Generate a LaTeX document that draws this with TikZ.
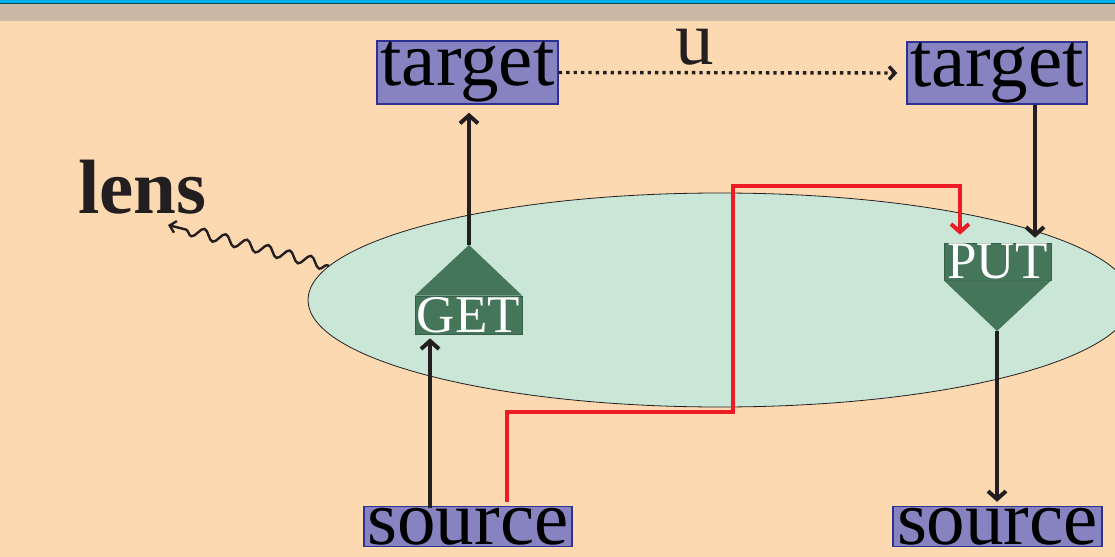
\documentclass[tikz,border=0pt]{standalone}
\usepackage{fontspec}
\setmainfont{Liberation Serif}
\usetikzlibrary{positioning,arrows.meta,shapes.geometric,decorations.pathmorphing}
\definecolor{peachbg}{HTML}{FDD9B1}
\definecolor{tanband}{HTML}{C9B8A6}
\definecolor{lensfill}{HTML}{C9E6D6}
\definecolor{boxfill}{HTML}{8783C0}
\definecolor{boxline}{HTML}{2E3192}
\definecolor{opgreen}{HTML}{45765A}
\definecolor{redpath}{HTML}{ED1C24}
\definecolor{inkblack}{HTML}{231F20}
\newcommand{\bigtext}{\fontsize{38.5}{40}\selectfont}
\tikzset{
  valbox/.style={draw=boxline,fill=boxfill,line width=0.7pt,inner sep=0pt,font=\bigtext},
  opnode/.style={fill=opgreen,draw=opgreen!80!black,line width=0.3pt,text=white,inner sep=0pt,
    font=\fontsize{26.5}{28}\selectfont},
  flow/.style={line width=2pt,draw=inkblack,-{Straight Barb[length=4pt,width=9pt]}},
}

\begin{document}
\begin{tikzpicture}[x=0.5pt,y=-0.5pt]
  \useasboundingbox (0,0) rectangle (1115,557);
  \fill[peachbg] (0,0) rectangle (1115,557);
  \fill[tanband] (0,4) rectangle (1115,21);
  \fill[cyan] (0,0) rectangle (1115,3.2);
  \fill[teal!60!black] (0,3.2) rectangle (1115,4);

  \node[ellipse,draw=inkblack,line width=0.4pt,fill=lensfill,inner sep=0pt,
    minimum width=412pt,minimum height=107pt] (lensell) at (720,300) {};
  \node[anchor=base west,inner sep=0pt,font=\bigtext\bfseries,text=inkblack] (lenslbl) at (78,213) {lens};
  \coordinate (lenstip) at (168,225);
  \draw[inkblack,line width=1.2pt,decorate,
    decoration={snake,amplitude=2.6pt,segment length=11pt,pre length=1pt,post length=4pt},
    -{Straight Barb[length=3pt,width=6pt]}] (lensell.175) -- (lenstip);

  \node[valbox,minimum width=90.5pt,minimum height=31.5pt] (tgtL) at (467.5,72.5) {target};
  \node[valbox,minimum width=90pt,minimum height=31pt] (tgtR) at (997,73) {target};
  \node[valbox,minimum width=104pt,minimum height=20pt] (srcL) at (468,526.5) {source};
  \node[valbox,minimum width=104.5pt,minimum height=20pt] (srcR) at (997.5,526.5) {source};

  \node[opnode,minimum width=53.5pt,minimum height=19pt] (get) at (468.5,315) {GET};
  \coordinate (getTop) at (469,245);
  \fill[opgreen] (get.north west) -- (getTop) -- (get.north east) -- cycle;
  \node[opnode,minimum width=53.5pt,minimum height=18.5pt] (put) at (997.5,261.5) {PUT};
  \coordinate (putTip) at (997,331);
  \fill[opgreen] (put.south west) -- (putTip) -- (put.south east) -- cycle;

  \draw[inkblack,line width=1.7pt,dash pattern=on 1.7pt off 2pt,shorten >=4.5pt,
    -{Straight Barb[length=3pt,width=6.5pt]}] (tgtL.east) -- (tgtR.west);
  \node[inner sep=0pt,font=\bigtext,text=inkblack] (ulbl) at (695,47.5) {u};

  \coordinate (inL) at (430,0);
  \draw[flow,shorten >=4pt] (getTop) -- (tgtL.south -| getTop);
  \draw[flow,shorten >=2pt] ([yshift=-1pt]srcL.north -| inL) -- (get.south -| inL);
  \coordinate (inR) at (1035,0);
  \draw[flow,shorten >=2.5pt] (tgtR.south -| inR) -- (put.north -| inR);
  \draw[flow,shorten >=2pt] (putTip) -- (srcR.north -| putTip);

  \coordinate (lowL) at (507,412);
  \coordinate (lowR) at (733,412);
  \coordinate (highL) at (733,186);
  \coordinate (highR) at (960,186);
  \draw[redpath,line width=2pt,shorten <=2pt,shorten >=4pt,-{Straight Barb[length=4pt,width=9pt]}]
    (srcL.north -| lowL) -- (lowL) -- (lowR) -- (highL) -- (highR) -- (put.north -| highR);
\end{tikzpicture}
\end{document}
